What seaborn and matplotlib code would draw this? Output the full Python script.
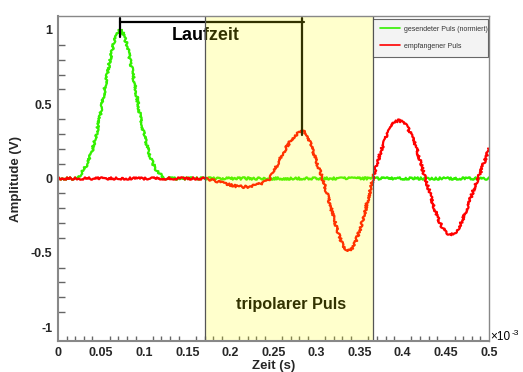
import numpy as np
import pandas as pd
import matplotlib
matplotlib.use("Agg")
import matplotlib.pyplot as plt
import seaborn as sns
from matplotlib.ticker import MultipleLocator, FixedFormatter, FixedLocator

sns.set_theme(style="white")
plt.rcParams['font.family'] = ['Liberation Sans', 'DejaVu Sans']

# ---- data (time in units of 1e-3 s) ----
sent_time = [0.0, 0.02, 0.025, 0.03, 0.035, 0.04, 0.045, 0.05, 0.055, 0.06, 0.065, 0.07,
             0.0725, 0.075, 0.08, 0.085, 0.09, 0.095, 0.10, 0.105, 0.11, 0.115, 0.12, 0.125, 0.5]
sent_amp = [0.0, 0.0, 0.02, 0.06, 0.11, 0.195, 0.31, 0.46, 0.63, 0.79, 0.92, 0.99,
            1.0, 0.985, 0.90, 0.76, 0.60, 0.43, 0.29, 0.18, 0.10, 0.05, 0.02, 0.0, 0.0]

recv_time = [0.0, 0.17, 0.175, 0.18, 0.185, 0.19, 0.195, 0.20, 0.205, 0.21, 0.215, 0.22,
             0.225, 0.23, 0.235, 0.24, 0.245, 0.25, 0.255, 0.26, 0.265, 0.27, 0.275,
             0.28, 0.285, 0.29, 0.295, 0.30, 0.305, 0.31, 0.315, 0.32, 0.325, 0.33,
             0.335, 0.34, 0.345, 0.35, 0.355, 0.36, 0.365, 0.37, 0.375, 0.38, 0.385,
             0.39, 0.395, 0.40, 0.405, 0.41, 0.415, 0.42, 0.425, 0.43, 0.435, 0.44,
             0.445, 0.45, 0.455, 0.46, 0.465, 0.47, 0.475, 0.48, 0.485, 0.49, 0.495, 0.50]
recv_amp = [0.0, 0.0, -0.005, -0.012, -0.02, -0.028, -0.036, -0.044, -0.05, -0.054, -0.056, -0.056,
            -0.052, -0.045, -0.035, -0.022, -0.005, 0.04, 0.10, 0.16, 0.21, 0.255, 0.29,
            0.31, 0.32, 0.285, 0.195, 0.11, 0.03, -0.06, -0.16, -0.27, -0.37, -0.44,
            -0.49, -0.48, -0.43, -0.35, -0.25, -0.13, -0.01, 0.10, 0.19, 0.27, 0.33,
            0.38, 0.39, 0.38, 0.35, 0.29, 0.22, 0.12, 0.02, -0.07, -0.17, -0.26,
            -0.32, -0.36, -0.38, -0.37, -0.33, -0.27, -0.19, -0.11, -0.03, 0.04, 0.12, 0.20]

sent_label = "gesendeter Puls (normiert)"
recv_label = "empfangener Puls"

band_start, band_end = 0.17, 0.366          # "tripolarer Puls" window
t_sent_peak, t_recv_peak = 0.0723, 0.2827   # Laufzeit markers
recv_peak_amp = 0.29

x_ticks = [0, 0.05, 0.1, 0.15, 0.2, 0.25, 0.3, 0.35, 0.4, 0.45, 0.5]
x_tick_labels = ["0", "0.05", "0.1", "0.15", "0.2", "0.25", "0.3", "0.35", "0.4", "0.45", "0.5"]
y_ticks = [-1, -0.5, 0, 0.5, 1]
y_tick_labels = ["-1", "-0.5", "0", "0.5", "1"]

df_sent = pd.DataFrame({"t": sent_time, "a": sent_amp})
df_recv = pd.DataFrame({"t": recv_time, "a": recv_amp})

fig = plt.figure(figsize=(5.23, 3.72), dpi=100)
ax = fig.add_axes([58/523, 31/372, 431/523, 325/372])

sns.lineplot(data=df_sent, x="t", y="a", ax=ax, color="#33f000", lw=1.6,
             label=sent_label, sort=False, zorder=3)
sns.lineplot(data=df_recv, x="t", y="a", ax=ax, color="#ff0000", lw=1.6,
             label=recv_label, sort=False, zorder=4)
for ln in ax.lines[:2]:
    ln.set_sketch_params(scale=1.2, length=0.8, randomness=2)

# Laufzeit marker
ax.plot([t_sent_peak, t_recv_peak + 0.003], [1.053, 1.053], color="black", lw=1.6, zorder=5)
ax.plot([t_sent_peak, t_sent_peak], [0.952, 1.082], color="black", lw=1.6, zorder=5)
ax.plot([t_recv_peak, t_recv_peak], [recv_peak_amp, 1.082], color="black", lw=1.6, zorder=5)
ax.text(0.1717, 0.96, "Laufzeit", fontsize=12.9, fontweight="bold", ha="center", va="center",
        color="black", zorder=5)
ax.text(0.2703, -0.85, "tripolarer Puls", fontsize=11.7, fontweight="bold", ha="center",
        va="center", color="black", zorder=5)

# yellow band drawn over the curves
ax.axvspan(band_start, band_end, facecolor=(1, 1, 0, 0.2), edgecolor="none", zorder=6)
ax.axvline(band_start, color="#555555", lw=0.9, zorder=7)
ax.axvline(band_end, color="#555555", lw=0.9, zorder=7)

ax.set_xlim(0, 0.5)
ax.set_ylim(-1.094, 1.094)

ax.xaxis.set_major_locator(FixedLocator(x_ticks))
ax.xaxis.set_major_formatter(FixedFormatter(x_tick_labels))
ax.xaxis.set_minor_locator(MultipleLocator(0.01))
ax.yaxis.set_major_locator(FixedLocator(y_ticks))
ax.yaxis.set_major_formatter(FixedFormatter(y_tick_labels))
ax.yaxis.set_minor_locator(MultipleLocator(0.1))

ax.tick_params(axis="both", which="both", direction="in", color="#666666", width=1.0,
               labelsize=9, pad=4)
ax.tick_params(axis="x", which="major", length=6.8)
ax.tick_params(axis="x", which="minor", length=3.5, bottom=True)
ax.tick_params(axis="y", which="major", length=10)
ax.tick_params(axis="y", which="minor", length=4.8, left=True)
for lab in ax.get_xticklabels() + ax.get_yticklabels():
    lab.set_fontweight("bold")

for side in ["left", "bottom"]:
    ax.spines[side].set_color("#888888")
    ax.spines[side].set_linewidth(1.5)
for side in ["top", "right"]:
    ax.spines[side].set_color("#888888")
    ax.spines[side].set_linewidth(1.0)
for s in ax.spines.values():
    s.set_zorder(8)

ax.set_xlabel("Zeit (s)", fontsize=9.5, fontweight="bold", labelpad=1)
ax.set_ylabel("Amplitude (V)", fontsize=9.5, fontweight="bold", labelpad=6)
fig.text(490/523, 1 - 343/372, "×10", fontsize=8.5, ha="left", va="bottom", color="black")
fig.text(512/523, 1 - 337/372, "-3", fontsize=6, ha="left", va="bottom", color="black")

leg = ax.legend(loc="upper left", bbox_to_anchor=(0.730, 0.878, 0.267, 0.113), mode="expand",
                fontsize=5, frameon=True, fancybox=False, borderpad=1.0, labelspacing=1.4,
                handlelength=2.9, handletextpad=0.6, borderaxespad=0)
leg.get_frame().set_facecolor("#f0f0f0")
leg.get_frame().set_edgecolor("#444444")
leg.get_frame().set_linewidth(0.8)
leg.set_zorder(9)
for t in leg.get_texts():
    t.set_color("#333333")
for h in leg.get_lines():
    h.set_linewidth(1.2)
    h.set_sketch_params(None)

fig.savefig("out.png", dpi=100)
